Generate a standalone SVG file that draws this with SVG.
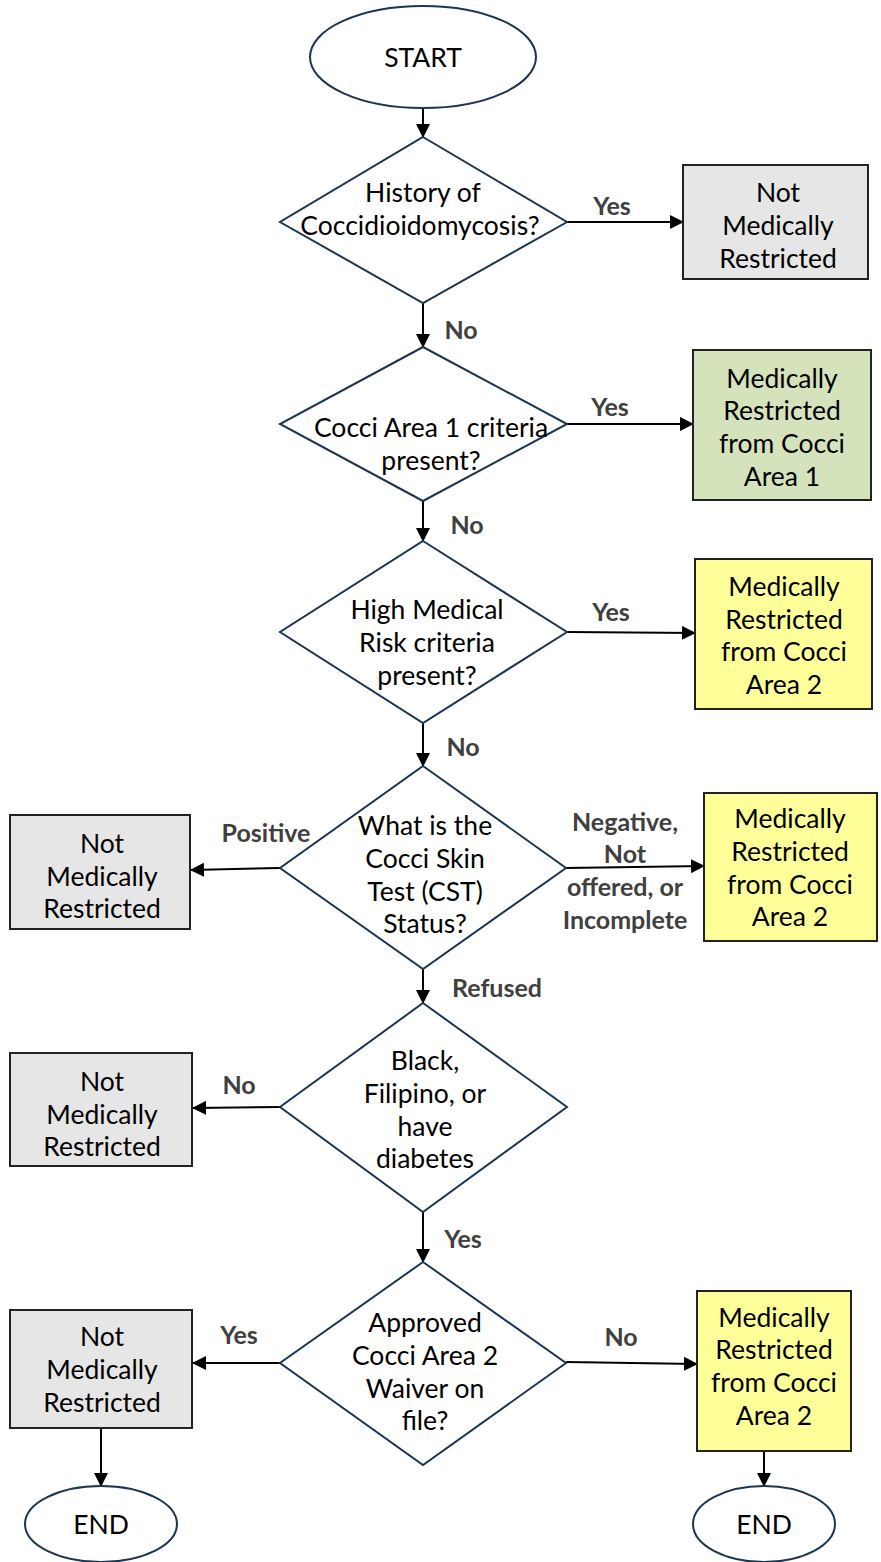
<svg xmlns="http://www.w3.org/2000/svg" width="881" height="1562" viewBox="0 0 881 1562">
<defs>
<marker id="ah" markerUnits="userSpaceOnUse" markerWidth="14" markerHeight="14" viewBox="0 0 14 14" refX="13" refY="7" orient="auto">
<path d="M0,0 L14,7 L0,14 Z" fill="#000"/>
</marker>
<style>
.dec{fill:#fff;stroke:#1b3552;stroke-width:2}
.term{fill:#fff;stroke:#1b3552;stroke-width:2}
.box{stroke:#222;stroke-width:2}
.gray{fill:#e6e6e6}
.green{fill:#d5e3bd}
.yellow{fill:#ffff99}
.t{font-family:Lato,"Open Sans",sans-serif;font-size:26.5px;fill:#000;text-anchor:middle;dominant-baseline:central}
.lb{font-family:Lato,"Open Sans",sans-serif;font-size:25px;font-weight:bold;fill:#404040;text-anchor:middle;dominant-baseline:central}
.c{fill:none;stroke:#000;stroke-width:2;marker-end:url(#ah)}
</style>
</defs>

<g id="connectors">
<line class="c" x1="423" y1="109" x2="423" y2="137"/>
<line class="c" x1="567" y1="222" x2="683" y2="222"/>
<line class="c" x1="423" y1="303" x2="423" y2="347"/>
<line class="c" x1="567" y1="424" x2="693" y2="424"/>
<line class="c" x1="423" y1="501" x2="423" y2="541"/>
<line class="c" x1="567" y1="632" x2="695" y2="633"/>
<line class="c" x1="423" y1="723" x2="423" y2="766"/>
<line class="c" x1="280" y1="868" x2="191" y2="870"/>
<line class="c" x1="566" y1="868" x2="704" y2="866"/>
<line class="c" x1="423" y1="969" x2="423" y2="1003"/>
<line class="c" x1="280" y1="1107" x2="193" y2="1108"/>
<line class="c" x1="423" y1="1212" x2="423" y2="1262"/>
<line class="c" x1="280" y1="1363" x2="193" y2="1363"/>
<line class="c" x1="566" y1="1362" x2="697" y2="1364"/>
<line class="c" x1="101" y1="1428" x2="101" y2="1486"/>
<line class="c" x1="764" y1="1451" x2="764" y2="1486"/>
<text class="lb" x="612" y="205">Yes</text>
<text class="lb" x="461" y="329">No</text>
<text class="lb" x="610" y="406">Yes</text>
<text class="lb" x="467" y="524">No</text>
<text class="lb" x="611" y="611">Yes</text>
<text class="lb" x="463" y="746">No</text>
<text class="lb" x="266" y="832">Positive</text>
<text class="lb" x="625" y="821">Negative,</text>
<text class="lb" x="625" y="853">Not</text>
<text class="lb" x="625" y="886">offered, or</text>
<text class="lb" x="625" y="919">Incomplete</text>
<text class="lb" x="497" y="987">Refused</text>
<text class="lb" x="239" y="1084">No</text>
<text class="lb" x="463" y="1238">Yes</text>
<text class="lb" x="239" y="1334">Yes</text>
<text class="lb" x="621" y="1336">No</text>
</g>

<g id="start">
<ellipse class="term" cx="423" cy="57" rx="113" ry="51"/>
<text class="t" x="423" y="57">START</text>
</g>

<g id="d1">
<polygon class="dec" points="423,137 567,222 423,303 280,222"/>
<text class="t" x="423" y="192">History of</text>
<text class="t" x="420" y="225">Coccidioidomycosis?</text>
</g>

<g id="b1">
<rect class="box gray" x="683" y="165" width="185" height="114"/>
<text class="t" x="778" y="192">Not</text>
<text class="t" x="778" y="225">Medically</text>
<text class="t" x="778" y="258">Restricted</text>
</g>

<g id="d2">
<polygon class="dec" points="423,347 567,424 423,501 280,424"/>
<text class="t" x="431" y="427">Cocci Area 1 criteria</text>
<text class="t" x="431" y="460">present?</text>
</g>

<g id="b2">
<rect class="box green" x="693" y="350" width="178" height="150"/>
<text class="t" x="782" y="378">Medically</text>
<text class="t" x="782" y="410">Restricted</text>
<text class="t" x="782" y="443">from Cocci</text>
<text class="t" x="782" y="476">Area 1</text>
</g>

<g id="d3">
<polygon class="dec" points="423,541 567,632 423,723 280,632"/>
<text class="t" x="427" y="609">High Medical</text>
<text class="t" x="427" y="642">Risk criteria</text>
<text class="t" x="427" y="675">present?</text>
</g>

<g id="b3">
<rect class="box yellow" x="695" y="559" width="177" height="150"/>
<text class="t" x="784" y="586">Medically</text>
<text class="t" x="784" y="619">Restricted</text>
<text class="t" x="784" y="651">from Cocci</text>
<text class="t" x="784" y="684">Area 2</text>
</g>

<g id="d4">
<polygon class="dec" points="423,766 566,868 423,969 280,868"/>
<text class="t" x="425" y="825">What is the</text>
<text class="t" x="425" y="858">Cocci Skin</text>
<text class="t" x="425" y="891">Test (CST)</text>
<text class="t" x="425" y="923">Status?</text>
</g>

<g id="bl1">
<rect class="box gray" x="10" y="815" width="180" height="114"/>
<text class="t" x="102" y="843">Not</text>
<text class="t" x="102" y="876">Medically</text>
<text class="t" x="102" y="908">Restricted</text>
</g>

<g id="b4">
<rect class="box yellow" x="704" y="793" width="173" height="148"/>
<text class="t" x="790" y="818">Medically</text>
<text class="t" x="790" y="851">Restricted</text>
<text class="t" x="790" y="884">from Cocci</text>
<text class="t" x="790" y="916">Area 2</text>
</g>

<g id="d5">
<polygon class="dec" points="423,1003 567,1107 423,1212 280,1107"/>
<text class="t" x="425" y="1060">Black,</text>
<text class="t" x="425" y="1093">Filipino, or</text>
<text class="t" x="425" y="1126">have</text>
<text class="t" x="425" y="1158">diabetes</text>
</g>

<g id="bl2">
<rect class="box gray" x="10" y="1053" width="182" height="113"/>
<text class="t" x="102" y="1081">Not</text>
<text class="t" x="102" y="1114">Medically</text>
<text class="t" x="102" y="1146">Restricted</text>
</g>

<g id="d6">
<polygon class="dec" points="423,1262 566,1363 423,1465 280,1363"/>
<text class="t" x="425" y="1322">Approved</text>
<text class="t" x="425" y="1355">Cocci Area 2</text>
<text class="t" x="425" y="1388">Waiver on</text>
<text class="t" x="425" y="1420">file?</text>
</g>

<g id="bl3">
<rect class="box gray" x="10" y="1310" width="182" height="118"/>
<text class="t" x="102" y="1336">Not</text>
<text class="t" x="102" y="1369">Medically</text>
<text class="t" x="102" y="1402">Restricted</text>
</g>

<g id="b5">
<rect class="box yellow" x="697" y="1291" width="154" height="160"/>
<text class="t" x="774" y="1317">Medically</text>
<text class="t" x="774" y="1349">Restricted</text>
<text class="t" x="774" y="1382">from Cocci</text>
<text class="t" x="774" y="1415">Area 2</text>
</g>

<g id="end1">
<ellipse class="term" cx="101" cy="1524" rx="76" ry="38"/>
<text class="t" x="101" y="1524">END</text>
</g>

<g id="end2">
<ellipse class="term" cx="764" cy="1524" rx="71" ry="38"/>
<text class="t" x="764" y="1524">END</text>
</g>
</svg>
